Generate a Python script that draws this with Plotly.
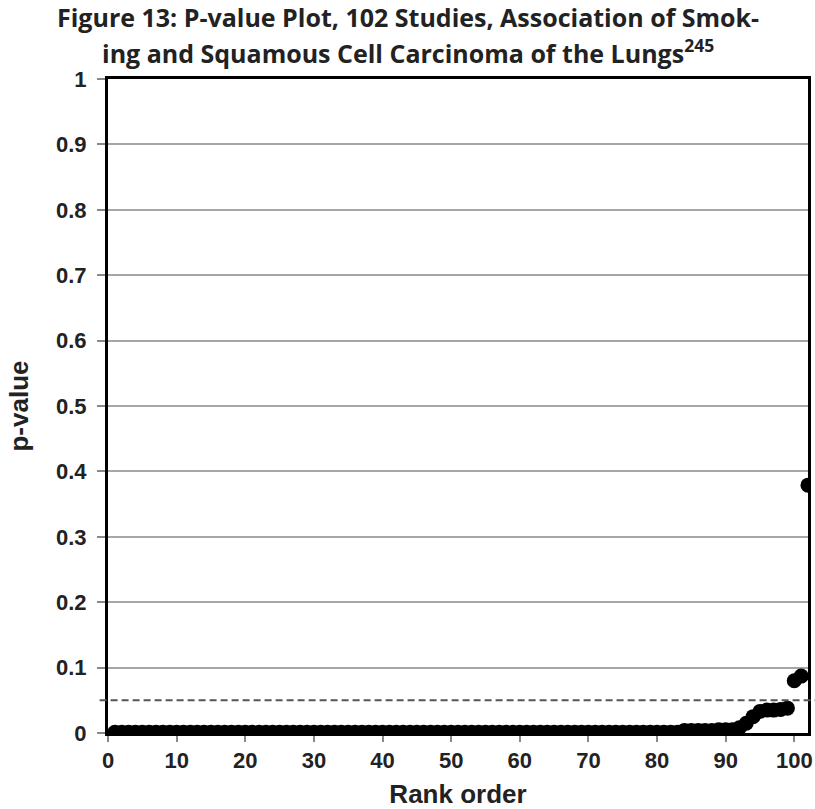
import plotly.graph_objects as go

# ---- data ----
ranks = list(range(1, 103))
p_values = (
    [0.001] * 83
    + [0.004, 0.004, 0.004, 0.004, 0.004, 0.005, 0.005, 0.005]
    + [0.008, 0.015, 0.025, 0.033, 0.035, 0.035, 0.036, 0.038]
    + [0.080, 0.087, 0.379]
)
y_ticks = [0, 0.1, 0.2, 0.3, 0.4, 0.5, 0.6, 0.7, 0.8, 0.9, 1]
y_tick_text = ["0", "0.1", "0.2", "0.3", "0.4", "0.5", "0.6", "0.7", "0.8", "0.9", "1"]
x_ticks = [0, 10, 20, 30, 40, 50, 60, 70, 80, 90, 100]
threshold = 0.05
title_line1 = "Figure 13: P-value Plot, 102 Studies, Association of Smok-"
title_line2 = "ing and Squamous Cell Carcinoma of the Lungs<sup>245</sup>"

fig = go.Figure()
fig.add_trace(go.Scatter(
    x=ranks, y=p_values, mode="markers",
    marker=dict(color="black", size=15),
    showlegend=False, hoverinfo="skip",
))

fig.add_shape(type="line", xref="paper", yref="y", x0=-0.012, x1=1.01,
              y0=threshold, y1=threshold,
              line=dict(color="#555555", width=2, dash="7px,4px"))

axis_font = dict(family="Liberation Sans, Arial, sans-serif", size=22, color="#222222")
title_font = dict(family="Open Sans, sans-serif", size=25, color="#222222", weight="bold")

fig.update_layout(
    width=815, height=809,
    margin=dict(l=108, r=7, t=79, b=76),
    paper_bgcolor="white", plot_bgcolor="white",
    annotations=[
        dict(text=title_line1, xref="paper", yref="paper", x=0.5, y=1,
             xanchor="center", yanchor="middle", yshift=62, showarrow=False,
             font=title_font, xshift=-50),
        dict(text=title_line2, xref="paper", yref="paper", x=0.5, y=1,
             xanchor="center", yanchor="middle", yshift=28, showarrow=False,
             font=title_font, xshift=-50),
    ],
    xaxis=dict(
        range=[0, 102], tickvals=x_ticks, ticks="outside", ticklen=6,
        tickcolor="#888888", tickwidth=1.5, automargin=False,
        showgrid=False, zeroline=False,
        showline=True, linecolor="black", linewidth=3, mirror=True,
        tickfont=dict(axis_font, weight="bold"),
        title=dict(text="<b>Rank order</b>", font=dict(axis_font, size=26), standoff=17),
    ),
    yaxis=dict(
        range=[0, 1], tickvals=y_ticks, ticktext=y_tick_text, ticks="outside", ticklen=8,
        tickcolor="#888888", tickwidth=1.5, ticklabelstandoff=6, automargin=False,
        showgrid=True, gridcolor="#a6a6a6", gridwidth=1.5, zeroline=False,
        showline=True, linecolor="black", linewidth=3, mirror=True,
        tickfont=dict(axis_font, weight="bold"),
        title=dict(text="<b>p-value</b>", font=dict(axis_font, size=26), standoff=20),
    ),
)

fig.write_html("out.html")
